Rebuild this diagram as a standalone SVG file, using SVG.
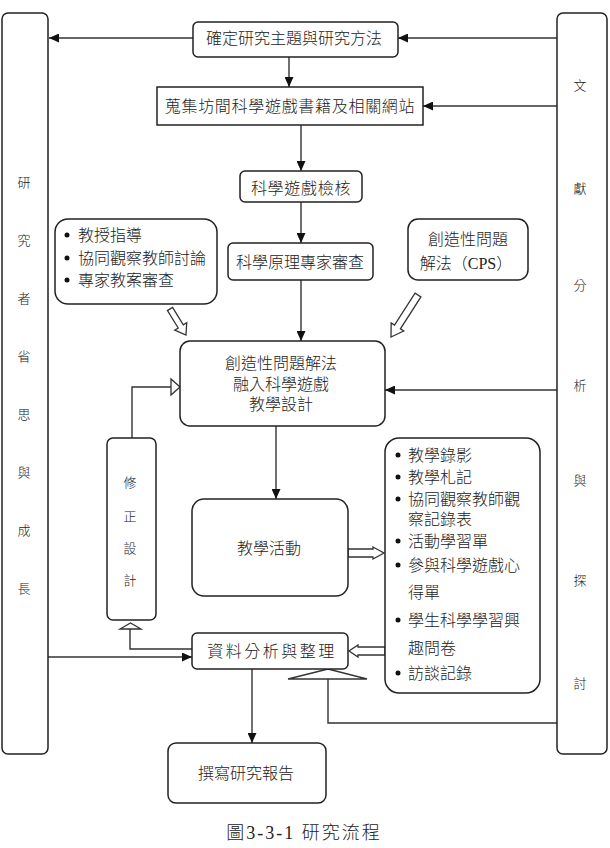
<svg xmlns="http://www.w3.org/2000/svg" width="610" height="848" viewBox="0 0 610 848">
<defs>
<style>
.box{fill:#fff;stroke:#222;stroke-width:1.5}
.ln{fill:none;stroke:#333;stroke-width:1.4}
.hol{fill:#fff;stroke:#333;stroke-width:1.3}
text{font-family:"Liberation Serif","Noto Sans CJK TC",serif;font-size:16px;fill:#222;font-weight:300;dominant-baseline:central}
.c{text-anchor:middle}
.v{font-size:13px;text-anchor:middle}
</style>
<marker id="arr" markerUnits="userSpaceOnUse" markerWidth="10" markerHeight="9" refX="10" refY="4.5" orient="auto">
<path d="M0,0 L10,4.5 L0,9 z" fill="#111"/>
</marker>
</defs>
<rect width="610" height="848" fill="#fff"/>

<g id="connectors">
<path class="ln" d="M193,38 H49" marker-end="url(#arr)"/>
<path class="ln" d="M557,38 H398" marker-end="url(#arr)"/>
<path class="ln" d="M289,57 V87" marker-end="url(#arr)"/>
<path class="ln" d="M557,106 H423" marker-end="url(#arr)"/>
<path class="ln" d="M301,125 V171" marker-end="url(#arr)"/>
<path class="ln" d="M301,202 V243" marker-end="url(#arr)"/>
<path class="ln" d="M301,280 V341" marker-end="url(#arr)"/>
<path class="ln" d="M557,390 H385" marker-end="url(#arr)"/>
<path class="ln" d="M276,426 V499" marker-end="url(#arr)"/>
<path class="ln" d="M132,438 V387 H171"/>
<polygon class="hol" points="171,379 171,395 180,387"/>
<path class="ln" d="M192,649 H130 V629"/>
<polygon class="hol" points="120,629 141,629 130.5,623"/>
<path class="ln" d="M48,657 H192" marker-end="url(#arr)"/>
<path class="ln" d="M252,669 V743" marker-end="url(#arr)"/>
<path class="ln" d="M328,679 V723 H557"/>
<polygon class="hol" points="288,679 367,679 328,669"/>
<polygon class="hol" points="348,549 373,549 373,547 384,553 373,559 373,557 348,557"/>
<polygon class="hol" points="385,647 358,647 358,645 349,651 358,657 358,655 385,655"/>
<polygon class="hol" transform="translate(170,309) rotate(58.4)" points="0,-3 20.5,-3 20.5,-7 30.5,0 20.5,7 20.5,3 0,3"/>
<polygon class="hol" transform="translate(418,295) rotate(122.7)" points="0,-3.5 38,-3.5 38,-7.5 50,0 38,7.5 38,3.5 0,3.5"/>
</g>

<g id="left-col">
<rect class="box" x="2" y="13" width="46" height="741" rx="6"/>
<text class="v" x="24" y="182">研</text>
<text class="v" x="24" y="240">究</text>
<text class="v" x="24" y="298">者</text>
<text class="v" x="24" y="356">省</text>
<text class="v" x="24" y="414">思</text>
<text class="v" x="24" y="472">與</text>
<text class="v" x="24" y="530">成</text>
<text class="v" x="24" y="588">長</text>
</g>

<g id="right-col">
<rect class="box" x="557" y="13" width="50" height="741" rx="6"/>
<text class="v" x="580" y="85">文</text>
<text class="v" x="580" y="188">獻</text>
<text class="v" x="580" y="285">分</text>
<text class="v" x="580" y="385">析</text>
<text class="v" x="580" y="480">與</text>
<text class="v" x="580" y="580">探</text>
<text class="v" x="580" y="683">討</text>
</g>

<g id="n-topic">
<rect class="box" x="193" y="22" width="205" height="35" rx="5"/>
<text class="c" x="294" y="38">確定研究主題與研究方法</text>
</g>

<g id="n-collect">
<rect class="box" x="157" y="87" width="266" height="38"/>
<text class="c" x="290" y="106" style="letter-spacing:0.7px">蒐集坊間科學遊戲書籍及相關網站</text>
</g>

<g id="n-check">
<rect class="box" x="240" y="171" width="122" height="31" rx="5"/>
<text class="c" x="301" y="188" style="letter-spacing:0.7px">科學遊戲檢核</text>
</g>

<g id="n-advice">
<rect class="box" x="55" y="219" width="162" height="85" rx="13"/>
<circle cx="67" cy="235" r="2.5" fill="#111"/>
<circle cx="67" cy="258" r="2.5" fill="#111"/>
<circle cx="67" cy="280" r="2.5" fill="#111"/>
<text x="78" y="235">教授指導</text>
<text x="78" y="258">協同觀察教師討論</text>
<text x="78" y="280">專家教案審查</text>
</g>

<g id="n-expert">
<rect class="box" x="228" y="243" width="145" height="37" rx="5"/>
<text class="c" x="300" y="262">科學原理專家審查</text>
</g>

<g id="n-cps">
<rect class="box" x="408" y="219" width="120" height="61" rx="10"/>
<text class="c" x="468" y="239">創造性問題</text>
<text class="c" x="466" y="263">解法（CPS）</text>
</g>

<g id="n-design">
<rect class="box" x="180" y="341" width="205" height="85" rx="10"/>
<text class="c" x="281" y="363">創造性問題解法</text>
<text class="c" x="281" y="384">融入科學遊戲</text>
<text class="c" x="281" y="404">教學設計</text>
</g>

<g id="n-revise">
<rect class="box" x="107" y="438" width="49" height="182" rx="6"/>
<text class="v" x="130" y="482">修</text>
<text class="v" x="130" y="516">正</text>
<text class="v" x="130" y="548">設</text>
<text class="v" x="130" y="580">計</text>
</g>

<g id="n-teach">
<rect class="box" x="192" y="499" width="156" height="97" rx="12"/>
<text class="c" x="269" y="548">教學活動</text>
</g>

<g id="n-data-sources">
<rect class="box" x="385" y="438" width="155" height="255" rx="14"/>
<circle cx="398" cy="455" r="2.5" fill="#111"/>
<circle cx="398" cy="477" r="2.5" fill="#111"/>
<circle cx="398" cy="499" r="2.5" fill="#111"/>
<circle cx="398" cy="541" r="2.5" fill="#111"/>
<circle cx="398" cy="565" r="2.5" fill="#111"/>
<circle cx="398" cy="620" r="2.5" fill="#111"/>
<circle cx="398" cy="673" r="2.5" fill="#111"/>
<text x="408" y="455">教學錄影</text>
<text x="408" y="477">教學札記</text>
<text x="408" y="499">協同觀察教師觀</text>
<text x="408" y="519">察記錄表</text>
<text x="408" y="541">活動學習單</text>
<text x="408" y="565">參與科學遊戲心</text>
<text x="408" y="592">得單</text>
<text x="408" y="620">學生科學學習興</text>
<text x="408" y="648">趣問卷</text>
<text x="408" y="673">訪談記錄</text>
</g>

<g id="n-analysis">
<rect class="box" x="192" y="633" width="156" height="36" rx="5"/>
<text class="c" x="272" y="651" style="letter-spacing:2.5px">資料分析與整理</text>
</g>

<g id="n-report">
<rect class="box" x="168" y="743" width="158" height="60" rx="8"/>
<text class="c" x="246" y="773">撰寫研究報告</text>
</g>

<text class="c" x="304" y="833" style="font-size:18px;letter-spacing:2px">圖3-3-1 研究流程</text>
</svg>
